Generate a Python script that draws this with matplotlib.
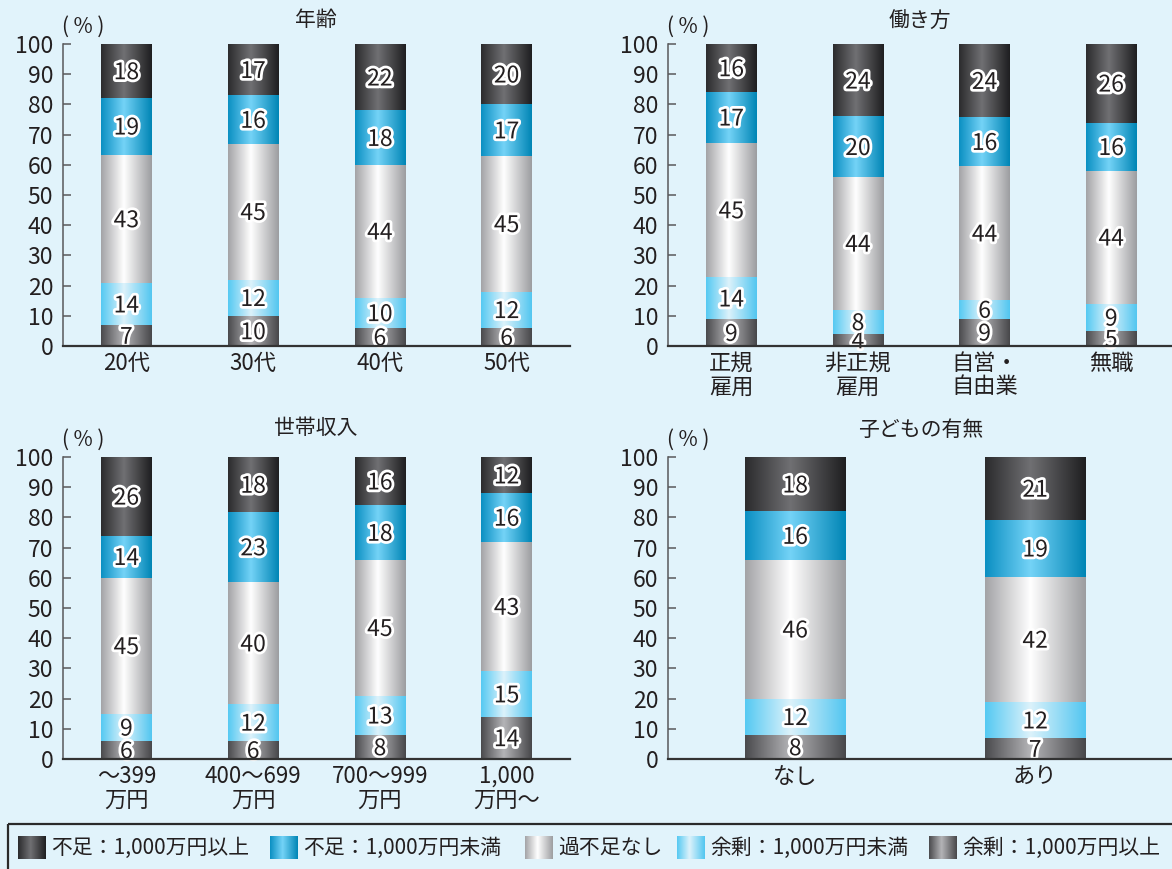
import numpy as np
import matplotlib
matplotlib.use("Agg")
import matplotlib.pyplot as plt
import matplotlib.patheffects as pe
from matplotlib.colors import to_rgb

plt.rcParams['font.family'] = ['Noto Sans CJK JP', 'DejaVu Sans']

BG = '#e1f3fb'
TXT = '#231f20'

# legend labels (top of stack first, as in the legend)
series = ['不足：1,000万円以上', '不足：1,000万円未満', '過不足なし',
          '余剰：1,000万円未満', '余剰：1,000万円以上']

# values per bar, listed bottom -> top:
# 余剰(以上), 余剰(未満), 過不足なし, 不足(未満), 不足(以上)
age_cats = ['20代', '30代', '40代', '50代']
age_vals = [[7, 14, 43, 19, 18],
            [10, 12, 45, 16, 17],
            [6, 10, 44, 18, 22],
            [6, 12, 45, 17, 20]]

work_cats = ['正規\n雇用', '非正規\n雇用', '自営・\n自由業', '無職']
work_vals = [[9, 14, 45, 17, 16],
             [4, 8, 44, 20, 24],
             [9, 6, 44, 16, 24],
             [5, 9, 44, 16, 26]]

income_cats = ['～399\n万円', '400～699\n万円', '700～999\n万円', '1,000\n万円～']
income_vals = [[6, 9, 45, 14, 26],
               [6, 12, 40, 23, 18],
               [8, 13, 45, 18, 16],
               [14, 15, 43, 16, 12]]

child_cats = ['なし', 'あり']
child_vals = [[8, 12, 46, 16, 18],
              [7, 12, 42, 19, 21]]

# gradient stops (left edge, highlight, right edge), bottom -> top
grad_stops = [('#4a4a4d', '#b4b4b7', '#47474a'),
              ('#55c9f2', '#dcf2fb', '#52c6f0'),
              ('#a3a3a6', '#ffffff', '#9c9da0'),
              ('#0a8fc2', '#74d3f7', '#0085b5'),
              ('#2b2b2d', '#707073', '#1e1e20')]


def make_grad(stops, n=200):
    t = np.linspace(0, 1, n)
    c = np.array([to_rgb(s) for s in stops])
    pos = [0, 0.45, 1]
    img = np.stack([np.interp(t, pos, c[:, k]) for k in range(3)], axis=-1)
    return img[np.newaxis, :, :]


grads = [make_grad(s) for s in grad_stops]

fig = plt.figure(figsize=(11.72, 8.69), dpi=100)
fig.patch.set_facecolor(BG)

W, H = 1172.0, 869.0


def px_axes(x0, y_top, x1, y_bot):
    return fig.add_axes([x0 / W, 1 - y_bot / H, (x1 - x0) / W, (y_bot - y_top) / H])


def draw_panel(ax, cats, vals, width, xlim):
    vals = np.array(vals, dtype=float)
    shares = vals / vals.sum(axis=1, keepdims=True) * 100
    x = np.arange(len(cats))
    bottom = np.zeros(len(cats))
    for j in range(5):
        bars = ax.bar(x, shares[:, j], width, bottom=bottom, color='none', linewidth=0)
        for b, v in zip(bars, vals[:, j]):
            x0, y0 = b.get_x(), b.get_y()
            ax.imshow(grads[j], extent=[x0, x0 + b.get_width(), y0, y0 + b.get_height()],
                      aspect='auto', interpolation='bilinear', zorder=2)
            ax.text(x0 + b.get_width() / 2, y0 + b.get_height() / 2 - 0.6, f'{v:.0f}',
                    ha='center', va='center', fontsize=16.5, color=TXT, zorder=4,
                    path_effects=[pe.withStroke(linewidth=4, foreground='white')])
        bottom += shares[:, j]
    ax.set_xlim(*xlim)
    ax.set_ylim(0, 100)
    ax.set_xticks(x)
    ax.set_xticklabels(cats, fontsize=16, color=TXT, linespacing=1.05)
    ax.set_yticks(range(0, 101, 10))
    ax.tick_params(axis='y', direction='in', length=6, width=1.1, color='#58595b',
                   labelsize=16.5, labelcolor=TXT, pad=7)
    ax.tick_params(axis='x', length=0, pad=4)
    ax.set_facecolor('none')
    for s in ['top', 'right']:
        ax.spines[s].set_visible(False)
    ax.spines['left'].set_color('#58595b')
    ax.spines['left'].set_linewidth(1.1)
    ax.spines['bottom'].set_color('#333333')
    ax.spines['bottom'].set_linewidth(1.6)
    ax.spines['bottom'].set_zorder(5)


ax1 = px_axes(63, 44, 570, 346)
draw_panel(ax1, age_cats, age_vals, 0.40, (-0.5, 3.5))
ax2 = px_axes(668, 44, 1172, 346)
draw_panel(ax2, work_cats, work_vals, 0.40, (-0.5, 3.48))
ax3 = px_axes(63, 457, 570, 759)
draw_panel(ax3, income_cats, income_vals, 0.40, (-0.5, 3.5))
ax4 = px_axes(668, 457, 1172, 759)
draw_panel(ax4, child_cats, child_vals, 0.417, (-0.53, 1.57))

# titles and unit labels
for title, cx, cy in [('年齢', 316, 20), ('働き方', 920, 22),
                      ('世帯収入', 316, 428), ('子どもの有無', 921, 430)]:
    fig.text(cx / W, 1 - cy / H, title, ha='center', va='center', fontsize=15, color=TXT)
for ux, uy in [(62, 27), (667, 27), (62, 440), (667, 440)]:
    fig.text(ux / W, 1 - uy / H, '( % )', ha='left', va='center', fontsize=15, color=TXT)

# legend box
lax = fig.add_axes([0, 0, 1, 1], zorder=-1)
lax.set_xlim(0, W)
lax.set_ylim(H, 0)
lax.axis('off')
lax.add_patch(plt.Rectangle((8, 824), 1180, 60, facecolor='none', edgecolor='#2a2a2a', linewidth=1.6))
legend_x = [18, 270, 525, 677, 929]
for k, lab in enumerate(series):
    g = grads[4 - k]
    xl = legend_x[k]
    lax.imshow(g, extent=[xl, xl + 28, 859, 836], aspect='auto', interpolation='bilinear')
    lax.text(xl + 33, 848, lab, ha='left', va='center', fontsize=15, color=TXT)
lax.set_xlim(0, W)
lax.set_ylim(H, 0)

fig.savefig('out.png', dpi=100, facecolor=BG)
